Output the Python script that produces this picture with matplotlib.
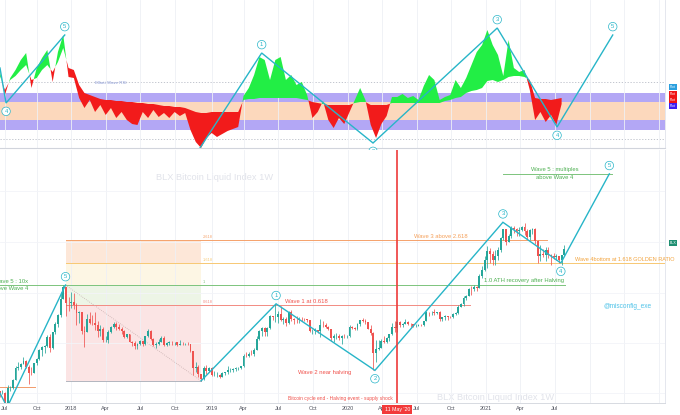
import matplotlib
matplotlib.use('Agg')
import matplotlib.pyplot as plt
import matplotlib.dates as mdates
import matplotlib.transforms as mtrans
import numpy as np
import pandas as pd

plt.rcParams.update({
    'font.family': ['Liberation Sans', 'DejaVu Sans'],
    'font.size': 4,
    'axes.unicode_minus': False,
})

# ── Weekly BLX candles (close / high / low), week starting Monday ──
START_WEEK = '2017-06-26'
FIRST_OPEN = 2590
closes_2017 = [2500, 2510, 1930, 2760, 2760, 3230, 4050, 4090, 4360, 4590, 4130, 3690, 3660, 4400,
               4770, 5680, 6010, 6130, 7360, 5950, 8040, 9330, 11250, 15100, 19100, 14000, 13900]
highs_2017 = [2590, 2640, 2540, 2920, 2840, 3290, 4200, 4480, 4460, 4950, 4700, 4260, 4120, 4420,
              4850, 5850, 6170, 6300, 7600, 7800, 8100, 9720, 11400, 17200, 19800, 19200, 15700]
lows_2017 = [2330, 2470, 1830, 1930, 2590, 2700, 3180, 3860, 3990, 4330, 4050, 2970, 3500, 3640,
             4230, 4700, 5100, 5400, 6020, 5480, 5850, 7800, 8800, 10700, 15100, 10900, 12000]
closes_2018 = [14200, 13600, 11500, 11800, 8200, 8100, 10400, 9600, 9500, 9200, 8200, 8500, 6900, 6900,
               8000, 8800, 9300, 8800, 8500, 8200, 7300, 7700, 6700, 6500, 6150, 6390, 6750, 6350,
               7400, 8200, 7030, 6300, 6400, 6700, 7200, 6250, 6500, 6700, 6600, 6600, 6300, 6450,
               6400, 6400, 6350, 5600, 4000, 4100, 3600, 3250, 4000, 3800, 4000]
highs_2018 = [17200, 17100, 14000, 12100, 11800, 9000, 11300, 11800, 11100, 11700, 9900, 9200, 8800, 7500,
              8300, 9000, 9800, 9700, 9400, 8900, 8400, 7800, 7800, 6800, 6800, 6500, 6900, 6800,
              7500, 8500, 8300, 7200, 6600, 7000, 7400, 7400, 6600, 6800, 6800, 6700, 6700, 6900,
              6600, 6500, 6600, 6400, 5600, 4500, 4300, 3600, 4200, 4300, 4100]
lows_2018 = [12800, 12500, 9200, 9500, 7700, 6000, 8000, 9400, 9200, 8400, 7300, 7500, 6600, 6600,
             6500, 7900, 8700, 8400, 8400, 7800, 7100, 7100, 6600, 6100, 5800, 5800, 6300, 6100,
             6250, 7300, 6900, 6200, 5900, 6300, 6600, 6200, 6200, 6300, 6300, 6300, 6100, 6250,
             6300, 6300, 6300, 5500, 3500, 3700, 3400, 3150, 3200, 3600, 3700]
closes_2019 = [3500, 3550, 3550, 3400, 3650, 3700, 3850, 3850, 3950, 4000, 4000, 4150, 5100, 5070,
               5300, 5250, 5700, 7000, 8200, 8700, 8000, 8700, 10900, 10800, 10800, 11400, 10200, 10300,
               9500, 11800, 10300, 10200, 10100, 10400, 10300, 10250, 10050, 8200, 8200, 8300, 8200, 9250,
               9200, 8800, 8500, 7100, 7500, 7500, 7100, 7500, 7400, 7400]
highs_2019 = [4100, 3800, 3700, 3600, 3700, 3750, 4200, 4000, 4000, 4100, 4100, 4200, 5300, 5450,
              5450, 5650, 5900, 7500, 8300, 8900, 8800, 8800, 11200, 11000, 13800, 12000, 13200, 10800,
              10700, 12000, 12300, 10600, 10900, 10800, 10800, 10500, 10400, 10100, 8500, 8700, 8400, 10400,
              9900, 9500, 9100, 8600, 7800, 7900, 7700, 7600, 7700, 7600]
lows_2019 = [3450, 3450, 3400, 3350, 3380, 3550, 3600, 3700, 3700, 3800, 3900, 3950, 4100, 4950,
             4950, 5150, 5100, 5700, 6900, 7500, 7500, 7450, 8500, 10100, 9800, 9600, 9900, 9300,
             9100, 9300, 10000, 9400, 9600, 9500, 10000, 9900, 9800, 8000, 7700, 7800, 7900, 7300,
             8900, 8650, 8400, 6800, 6600, 7050, 6900, 6400, 7100, 7100]
closes_2020 = [8900, 8700, 8600, 9400, 10100, 9900, 9650, 8500, 7900, 5350, 5800, 5900, 6800, 6600,
               7100, 7700, 8900, 8700, 9700, 9200, 9450, 9700, 9450, 9300, 9000, 9050, 9250, 9200,
               9950, 11750, 11700, 11900, 11650, 11700, 10250, 10800, 10950, 10750, 10650, 11400, 11500, 13050,
               13800, 15500, 16050, 18400, 18200, 19150, 18800, 23500, 26300, 32000]
highs_2020 = [9200, 9000, 8900, 9600, 10200, 10500, 10400, 9700, 9200, 8000, 6900, 6900, 7000, 7400,
              7300, 7800, 9500, 10000, 10000, 9900, 9600, 10400, 9900, 9600, 9400, 9400, 9400, 9300,
              10000, 12100, 11800, 12100, 12400, 11800, 12000, 10800, 11200, 10950, 11000, 11500, 11700, 13400,
              14000, 15900, 16500, 18800, 19500, 19900, 19400, 24300, 28400, 34800]
lows_2020 = [7300, 8500, 8300, 8300, 9100, 9700, 9300, 8500, 7600, 3850, 4500, 5700, 5900, 6500,
             6500, 6800, 7600, 8100, 8100, 8800, 8800, 9300, 9200, 8900, 8800, 8900, 9000, 9100,
             9100, 9900, 11000, 11100, 11200, 11300, 9900, 9900, 10200, 10100, 10500, 10500, 11200, 11300,
             12900, 13200, 14800, 15900, 16300, 17500, 17600, 18600, 22700, 25800]
closes_2021 = [38200, 36000, 32100, 34300, 39000, 48600, 57500, 45200, 51000, 59000, 57500, 55800, 57000, 59800,
               56200, 50100, 56600, 58200, 46400, 34700, 35700, 35500, 39000, 35500, 34700, 34200, 34250, 31800,
               35400, 39800]
highs_2021 = [41900, 40100, 37800, 38500, 40900, 49700, 58300, 57500, 52600, 61700, 61200, 59000, 60200, 61200,
              64800, 57500, 57900, 59500, 59500, 46600, 42400, 39500, 41300, 40900, 36000, 36600, 35900, 34800,
              35500, 42600]
lows_2021 = [27700, 30400, 29000, 29200, 32300, 37300, 47000, 43000, 44900, 49200, 53300, 50500, 50500, 55500,
             52100, 47500, 47000, 53000, 43800, 30000, 31200, 34100, 31100, 33400, 28800, 32700, 32200, 30500,
             29300, 34700]

closes = closes_2017 + closes_2018 + closes_2019 + closes_2020 + closes_2021
highs = highs_2017 + highs_2018 + highs_2019 + highs_2020 + highs_2021
lows = lows_2017 + lows_2018 + lows_2019 + lows_2020 + lows_2021

# ── Elliott Wave RSI pane (bi-weekly samples): rsi line and its signal ──
RSI_START = '2017-06-26'
rsi = [65, 52.5, 61, 65, 70, 73.5, 56, 66, 71, 75, 59, 74, 82.5, 61.5, 61, 51, 46, 50, 44, 47.5,
       42.5, 46, 41, 44, 40, 38, 37.5, 44, 41, 45, 41.5, 43.5, 41, 44, 42, 43.5, 35, 29, 26, 31,
       33.5, 31.5, 33, 34.5, 35.5, 36.5, 52, 56, 62.5, 71.5, 70, 60, 70, 71.5, 60, 62.5, 57.5, 59, 52.5, 41,
       44, 49.5, 40, 36, 41, 38, 44, 50, 56, 50, 37.5, 31, 38, 42, 51.5, 51.5, 53, 51, 52, 50,
       57, 62.5, 60, 50, 51.5, 52.5, 60, 56, 61, 67.5, 74, 77.5, 85, 77.5, 72.5, 62, 80, 66, 64, 65,
       55, 40, 44, 39, 42.5, 37.5, 48]
signal = [62.5, 55, 60, 62, 65, 67.5, 60, 61, 65, 67.5, 64, 69, 76, 66, 65, 57.5, 53.5, 52.5, 51.5, 50.5,
          50, 50, 49.5, 49.5, 49, 49, 48.5, 48.5, 48, 48, 47.5, 47, 47, 46.5, 46.5, 46, 45, 44, 43.5, 43.5,
          44, 44, 44, 44, 44, 44, 50, 50.5, 50.5, 51, 51, 51, 51, 51, 51, 51, 51, 50.5, 50, 49,
          48.5, 48, 47.5, 47.5, 47.5, 47.5, 47.5, 48.5, 49, 49, 47.5, 47.5, 47.5, 47.5, 48.5, 48.5, 48.5, 48.5, 48.5, 48.5,
          48.5, 48.5, 48.5, 48.5, 49.5, 50, 51, 51.5, 53.5, 54.5, 55, 56, 59.5, 60, 59, 60, 61.5, 62, 62, 61.5,
          60, 51, 50.5, 50.5, 50, 50.5, 51]
RSI_BANDS = [35, 40, 49, 53.5]
RSI_DOTTED = [30.5, 59]

# Elliott wave counts (date, value)
top_wave_a = [('2017-06-27', 66), ('2017-07-13', 48.5), ('2017-12-15', 82.5)]
top_wave_b = [('2018-12-07', 26), ('2019-05-19', 73.5), ('2020-03-08', 28.5),
              ('2021-01-30', 86), ('2021-07-07', 36.5), ('2021-12-01', 82.5)]
top_wave_labels = [('2017-07-13', 48.5, '4', -1), ('2017-12-15', 82.5, '5', 1), ('2019-05-19', 73.5, '1', 1),
                   ('2020-03-08', 28.5, '2', -1), ('2021-01-30', 86, '3', 1), ('2021-07-07', 36.5, '4', -1),
                   ('2021-12-01', 82.5, '5', 1)]

price_wave_a = [('2017-06-27', 2490), ('2017-07-16', 1900), ('2017-12-17', 19800)]
price_wave_b = [('2018-12-10', 3150), ('2019-06-26', 13800), ('2020-03-13', 3850),
                ('2021-02-14', 66000), ('2021-07-17', 30200), ('2021-11-22', 167000)]
price_wave_labels = [('2017-12-17', 19800, '5', 1), ('2019-06-26', 13800, '1', 1), ('2020-03-13', 3850, '2', -1),
                     ('2021-02-14', 66000, '3', 1), ('2021-07-17', 30200, '4', -1), ('2021-11-22', 167000, '5', 1)]

# Fibonacci retracement drawn on the 2018 bear market
FIB_START, FIB_END = '2017-12-17', '2018-12-10'
FIB_LOW, FIB_HIGH = 3150, 19800
FIB_RATIOS = [0, 0.618, 1, 1.618, 2.618]
FIB_NAMES = ['', '0.618', '1', '1.618', '2.618']
FIB_LINE_END = [FIB_END, '2020-11-20', '2021-07-27', '2022-04-18', '2021-06-10']
FIB_LINE_START = [FIB_START, FIB_START, '2017-06-27', FIB_START, FIB_START]
FIB_LINE_COLORS = ['#b2b5be', '#f28b82', '#7cc47c', '#f7c873', '#f5a26b']
FIB_FILL_COLORS = ['#fbe4e4', '#edf5e6', '#fdf6e4', '#fde7d8']

TICK_DATES = ['2017-07-10', '2017-10-02', '2018-01-01', '2018-04-02', '2018-07-02', '2018-10-01',
              '2019-01-07', '2019-04-01', '2019-07-01', '2019-10-01', '2020-01-01', '2020-04-01',
              '2020-07-01', '2020-10-01', '2021-01-01', '2021-04-01', '2021-07-01', '2021-10-01',
              '2022-01-01', '2022-04-01']
TICK_LABELS = ['Jul', 'Oct', '2018', 'Apr', 'Jul', 'Oct', '2019', 'Apr', 'Jul', 'Oct', '2020', 'Apr',
               'Jul', 'Oct', '2021', 'Apr', 'Jul', '', '', '']

HALVING = '2020-05-11'
XMIN, XMAX = '2017-06-27', '2022-04-18'

CYAN = '#27b5c8'
UP, DOWN = '#26a69a', '#ef5350'
GREEN_TXT, ORANGE_TXT, RED_TXT = '#4caf50', '#f5a05a', '#f0504a'

D = lambda s: mdates.date2num(pd.Timestamp(s))

fig = plt.figure(figsize=(6.8, 4.15), dpi=100)
ax_top = fig.add_axes([0, 1 - 148 / 415, 665 / 680, 148 / 415])
ax = fig.add_axes([0, 1 - 403 / 415, 665 / 680, 253 / 415])

for a in (ax_top, ax):
    a.set_xlim(D(XMIN), D(XMAX))
    a.set_xticks([D(t) for t in TICK_DATES])
    a.grid(True, axis='x', color='#eef0f5', lw=0.6)
    a.set_axisbelow(True)
    a.tick_params(length=0)
    for sp in a.spines.values():
        sp.set_visible(False)
    a.spines['right'].set_visible(True)
    a.spines['right'].set_color('#e0e3eb')
    a.spines['right'].set_linewidth(0.6)

# ═══════════ top pane: Elliott Wave RSI ═══════════
ax_top.set_ylim(26, 100)
ax_top.set_yticks([])
ax_top.set_xticklabels([])
ax_top.spines['bottom'].set_visible(True)
ax_top.spines['bottom'].set_color('#d1d4dc')
ax_top.spines['bottom'].set_linewidth(0.8)

ax_top.axhspan(RSI_BANDS[2], RSI_BANDS[3], color='#b3a7f5', lw=0, zorder=0)
ax_top.axhspan(RSI_BANDS[1], RSI_BANDS[2], color='#fcd8bc', lw=0, zorder=0)
ax_top.axhspan(RSI_BANDS[0], RSI_BANDS[1], color='#b3a7f5', lw=0, zorder=0)
for lv in RSI_DOTTED:
    ax_top.axhline(lv, color='#b8bcc6', ls=(0, (1.5, 2)), lw=0.6, zorder=0)
ax_top.text(D('2018-04-15'), 58.5, 'Elliott Wave RSI', fontsize=3.2, color='#8c9bd6',
            ha='center', va='center')

rsi_x = mdates.date2num(pd.date_range(RSI_START, periods=len(rsi), freq='14D'))
r, s = np.array(rsi), np.array(signal)
ax_top.fill_between(rsi_x, r, s, where=r >= s, interpolate=True, color='#22ee45', lw=0, zorder=2)
ax_top.fill_between(rsi_x, r, s, where=r < s, interpolate=True, color='#f21b1b', lw=0, zorder=2)


def wave_line(a, pts):
    a.plot([D(d) for d, _ in pts], [v for _, v in pts], color=CYAN, lw=1.0, zorder=4,
           solid_joinstyle='miter')


def wave_labels(a, labels, off):
    for d, v, t, side in labels:
        a.annotate(t, (D(d), v), xytext=(0, side * off), textcoords='offset points',
                   ha='center', va='center', fontsize=4.2, color=CYAN, zorder=6,
                   annotation_clip=False,
                   bbox=dict(boxstyle='circle,pad=0.3', fc='white', ec=CYAN, lw=0.5))


wave_line(ax_top, top_wave_a)
wave_line(ax_top, top_wave_b)
wave_labels(ax_top, top_wave_labels, 6)

# right-side scale labels of the RSI pane
for yy, c in zip([87, 94, 100, 106], ['#2a9fde', '#f01414', '#f01414', '#3d1ff0']):
    fig.text(673 / 680, 1 - yy / 415, 'Plot', fontsize=2.4, color='white', ha='center', va='center',
             bbox=dict(boxstyle='square,pad=0.25', fc=c, ec='none'))

# ═══════════ bottom pane: BLX weekly candles ═══════════
ax.set_yscale('log')
ax.set_ylim(2060, 264000)
ax.set_yticks([2500, 6500, 17000, 45000, 120000])
ax.set_yticks([], minor=True)
ax.set_yticklabels([])
ax.grid(True, axis='y', color='#f3f4f8', lw=0.6)
ax.spines['bottom'].set_visible(True)
ax.spines['bottom'].set_color('#d1d4dc')
ax.spines['bottom'].set_linewidth(0.6)
ax.set_xticklabels(TICK_LABELS, fontsize=4, color='#50535e')
ax.tick_params(axis='x', pad=2)

ax.text(0.323, 0.893, 'BLX Bitcoin Liquid Index 1W', transform=ax.transAxes, fontsize=6.7,
        color='#e1e3ea', ha='center', va='center', zorder=0)
ax.text(0.745, 0.02, 'BLX Bitcoin Liquid Index 1W', transform=ax.transAxes, fontsize=6.7,
        color='#e1e3ea', ha='center', va='center', zorder=0)

# fib box
fx0, fx1 = D(FIB_START), D(FIB_END)
fib_prices = [FIB_LOW + f * (FIB_HIGH - FIB_LOW) for f in FIB_RATIOS]
for i in range(len(fib_prices) - 1):
    ax.fill_between([fx0, fx1], fib_prices[i], fib_prices[i + 1], color=FIB_FILL_COLORS[i], lw=0, zorder=0.5)
for p, nm, x0, x1, c in zip(fib_prices, FIB_NAMES, FIB_LINE_START, FIB_LINE_END, FIB_LINE_COLORS):
    ax.plot([D(x0), D(x1)], [p, p], color=c, lw=0.7, zorder=1)
    if nm:
        ax.annotate(nm, (D('2018-12-14'), p), xytext=(0, 1), textcoords='offset points',
                    fontsize=2.8, color=c, ha='left', va='bottom')
ax.plot([fx0, fx1], [FIB_HIGH, FIB_LOW], color='#c8b0b0', ls=(0, (1, 1.5)), lw=0.6, zorder=1)

# July 2017 level
ax.plot([D('2017-06-27'), D('2017-09-27')], [2800, 2800], color='#f29b6b', lw=0.7, zorder=1)

# candles
wk = mdates.date2num(pd.date_range(START_WEEK, periods=len(closes), freq='W-MON'))
c = np.array(closes, float)
o = np.array([FIRST_OPEN] + closes[:-1], float)
h, l = np.array(highs, float), np.array(lows, float)
col = np.where(c >= o, UP, DOWN)
ax.vlines(wk, l, h, colors=col, lw=0.55, zorder=2)
ax.bar(wk, np.abs(c - o), bottom=np.minimum(o, c), width=5.0, color=col, lw=0, zorder=2)

wave_line(ax, price_wave_a)
wave_line(ax, price_wave_b)
wave_labels(ax, price_wave_labels, 6)

# halving marker
ax.axvline(D(HALVING), color='#ee3b3b', lw=1.2, zorder=5)
ax.text(D(HALVING), -0.026, "11 May '20", transform=mtrans.blended_transform_factory(ax.transData, ax.transAxes),
        fontsize=3.8, color='white', ha='center', va='center', zorder=10, clip_on=False,
        bbox=dict(boxstyle='square,pad=0.4', fc='#f23a3a', ec='none'))

# annotations
ax.annotate('Wave 3 above 2.618', (D('2020-09-04'), fib_prices[4]), xytext=(0, 1.2), textcoords='offset points',
            fontsize=4.2, color=ORANGE_TXT, ha='center', va='bottom')
ax.annotate('Wave 1 at 0.618', (D('2019-07-20'), fib_prices[1]), xytext=(0, 1.2), textcoords='offset points',
            fontsize=4.2, color=RED_TXT, ha='left', va='bottom')
ax.annotate('1.0 ATH recovery after Halving', (D('2021-04-10'), fib_prices[2]), xytext=(0, 1.2),
            textcoords='offset points', fontsize=4.2, color=GREEN_TXT, ha='center', va='bottom')
ax.annotate('Wave 4bottom at 1.618 GOLDEN RATIO', (D('2021-08-23'), fib_prices[3]), xytext=(0, 1.2),
            textcoords='offset points', fontsize=4.0, color='#f2a23a', ha='left', va='bottom')
ax.text(D('2019-11-02'), 3670, 'Wave 2 near halving', fontsize=4.2, color=RED_TXT, ha='center', va='center')
ax.text(D('2020-04-29'), 2250, 'Bitcoin cycle end - Halving event - supply shock', fontsize=3.5,
        color=RED_TXT, ha='right', va='center')
ax.text(D('2022-01-10'), 13000, '@misconfig_exe', fontsize=4.7, color='#4fc3e8', ha='center', va='center')

ax.plot([D('2021-02-14'), D('2021-11-29')], [167000, 167000], color='#7cc47c', lw=0.7, zorder=1)
ax.annotate('Wave 5 : multiples', (D('2021-07-01'), 167000), xytext=(0, 1), textcoords='offset points',
            fontsize=4.2, color=GREEN_TXT, ha='center', va='bottom')
ax.annotate('above Wave 4', (D('2021-07-01'), 167000), xytext=(0, -1), textcoords='offset points',
            fontsize=4.2, color=GREEN_TXT, ha='center', va='top')
ax.annotate('Wave 5 : 10x', (D('2017-09-09'), FIB_HIGH), xytext=(0, 1), textcoords='offset points',
            fontsize=4.2, color=GREEN_TXT, ha='right', va='bottom', annotation_clip=False)
ax.annotate('above Wave 4', (D('2017-09-09'), FIB_HIGH), xytext=(0, -1), textcoords='offset points',
            fontsize=4.2, color=GREEN_TXT, ha='right', va='top', annotation_clip=False)

# last-price tag on the right scale
fig.text(673 / 680, 1 - 243 / 415, 'BLX', fontsize=2.6, color='white', ha='center', va='center',
         bbox=dict(boxstyle='square,pad=0.3', fc='#1f8f72', ec='none'))

fig.savefig('out.png', dpi=100)
